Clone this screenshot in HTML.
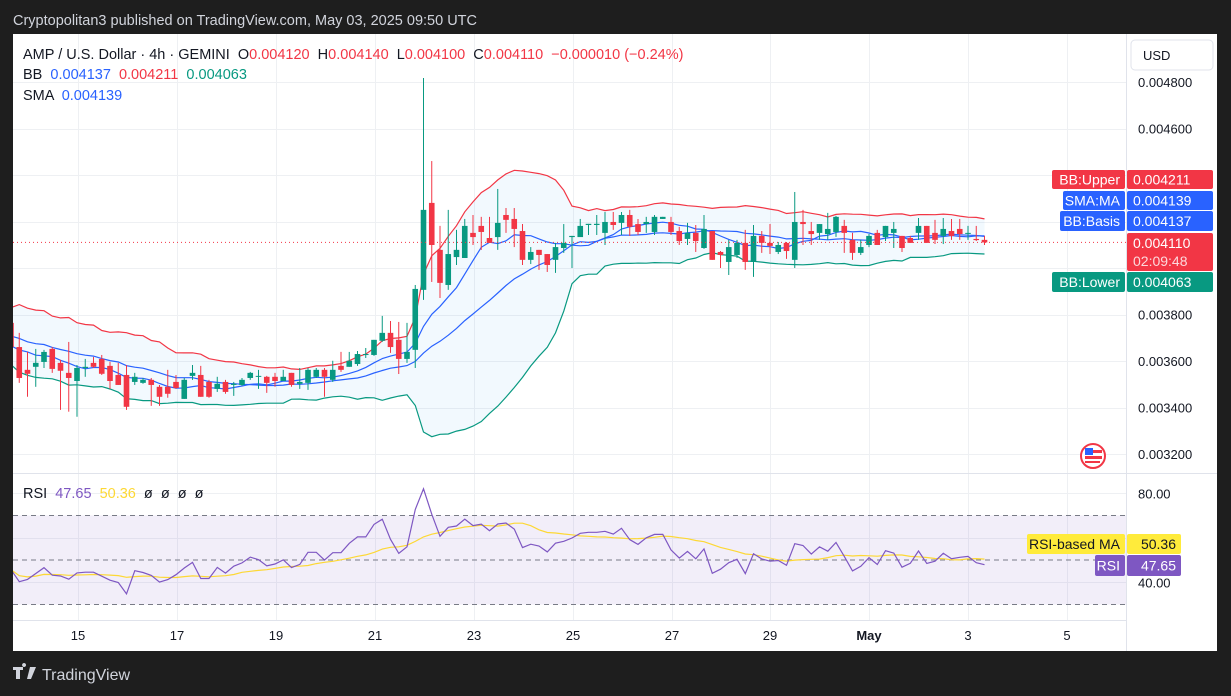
<!DOCTYPE html>
<html><head><meta charset="utf-8"><style>
html,body{margin:0;padding:0;background:#1e1e1e;}
body{width:1231px;height:696px;overflow:hidden;position:relative;font-family:"Liberation Sans",sans-serif;}
svg{position:absolute;left:0;top:0}
text{white-space:pre}
</style></head><body>
<svg id="c" width="1231" height="696" xmlns="http://www.w3.org/2000/svg"></svg>
<script>
// price values in micro-dollars (x 1e-6)
const dateLabels=["15","17","19","21","23","25","27","29","May","3","5"];
const dateX=[78,177,276,375,474,573,672,770,869,968,1067];
const priceTicks=[4800,4600,4400,4200,4000,3800,3600,3400,3200];
const priorCloses=[3800,3720,3840,3760,3700,3820,3740,3680,3780,3700,3650,3760,3690,3620,3720,3660,3600,3700,3640,3700];
const opens=[3764,3660,3562,3575,3596,3652,3592,3549,3514,3570,3592,3609,3579,3540,3540,3510,3506,3519,3489,3489,3510,3437,3536,3540,3510,3480,3510,3497,3497,3527,3532,3532,3532,3514,3549,3502,3506,3532,3562,3519,3579,3575,3587,3626,3626,3687,3721,3691,3609,3648,3906,4280,4078,3927,4047,4043,4151,4181,4129,4133,4228,4211,4159,4035,4078,4060,4035,4086,4133,4133,4185,4185,4151,4198,4194,4228,4189,4189,4155,4211,4198,4159,4125,4151,4086,4159,4069,4026,4056,4108,4026,4138,4108,4069,4108,4035,4198,4159,4151,4146,4155,4181,4121,4065,4099,4151,4133,4151,4138,4129,4151,4181,4151,4138,4159,4168,4151,4125,4121];
const closes=[3660,3527,3545,3592,3639,3566,3558,3527,3570,3575,3575,3545,3514,3497,3403,3532,3519,3497,3446,3459,3484,3519,3549,3446,3446,3502,3467,3502,3519,3549,3536,3506,3514,3532,3497,3510,3562,3562,3532,3562,3562,3601,3630,3630,3691,3721,3660,3609,3639,3910,4250,4099,3936,4060,4078,4181,4133,4155,4108,4194,4207,4168,4035,4069,4056,4013,4090,4108,4138,4181,4190,4190,4198,4185,4228,4177,4155,4198,4220,4220,4155,4116,4151,4116,4168,4035,4056,4090,4108,4026,4138,4108,4095,4099,4073,4198,4189,4146,4189,4168,4220,4151,4065,4090,4138,4099,4181,4168,4086,4108,4181,4108,4121,4168,4138,4146,4151,4120,4110];
const highs=[3785,3721,3639,3652,3648,3660,3605,3682,3583,3609,3618,3626,3596,3592,3583,3549,3527,3527,3497,3562,3540,3527,3583,3579,3519,3532,3519,3510,3527,3553,3562,3536,3549,3562,3549,3570,3570,3570,3570,3601,3639,3639,3643,3656,3691,3794,3772,3768,3764,3927,4817,4460,4181,4250,4164,4211,4228,4220,4220,4340,4258,4258,4189,4090,4078,4060,4108,4189,4138,4211,4190,4228,4241,4241,4241,4250,4211,4220,4228,4220,4220,4177,4194,4185,4228,4159,4073,4121,4121,4164,4185,4159,4189,4112,4112,4327,4250,4198,4189,4237,4224,4207,4151,4121,4146,4164,4181,4198,4138,4138,4215,4181,4207,4215,4211,4211,4181,4181,4138];
const lows=[3640,3506,3446,3489,3570,3549,3390,3382,3360,3532,3570,3540,3480,3497,3390,3497,3502,3407,3407,3442,3480,3437,3519,3446,3442,3467,3459,3450,3493,3519,3480,3463,3489,3519,3489,3480,3476,3527,3446,3510,3553,3575,3579,3613,3622,3682,3635,3544,3592,3570,3863,3940,3871,3906,4013,4043,4099,4078,4108,4078,4151,4090,4013,4017,3992,3983,3979,4065,4000,4134,4142,4142,4099,4164,4142,4138,4142,4151,4142,4211,4142,4099,4099,4069,4082,4035,4000,3970,4043,3992,3962,4065,4060,4060,4039,4000,4099,4099,4121,4121,4134,4065,4035,4056,4090,4099,4116,4086,4069,4108,4121,4108,4103,4103,4121,4121,4121,4116,4099];

const NS="http://www.w3.org/2000/svg";
const svg=document.getElementById('c');
function el(t,a,p){const e=document.createElementNS(NS,t);for(const k in a)e.setAttribute(k,a[k]);(p||svg).appendChild(e);return e;}
function tx(x,y,s,a,p){const e=el('text',Object.assign({x:x,y:y,'font-family':'Liberation Sans, sans-serif','font-size':13},a),p);e.textContent=s;return e;}
const N=closes.length;
function xOf(i){return 984.5-(N-1-i)*8.25;}
function yOf(p){return 82+(4800-p)/200*46.5;}
function yR(v){return 560-(v-50)*2.225;}

el('rect',{x:13,y:34,width:1204,height:617,fill:'#ffffff'});
const hdr=tx(13,25,'Cryptopolitan3 published on TradingView.com, May 03, 2025 09:50 UTC',{fill:'#d1d4dc','font-size':14.5});

const grid=el('g',{stroke:'#eef0f3','stroke-width':1});

dateX.forEach(x=>el('line',{x1:x+0.5,y1:34,x2:x+0.5,y2:620},grid));
priceTicks.forEach(p=>el('line',{x1:13,y1:Math.round(yOf(p))+0.5,x2:1126,y2:Math.round(yOf(p))+0.5},grid));
[80,60,40].forEach(v=>el('line',{x1:13,y1:Math.round(yR(v))+0.5,x2:1126,y2:Math.round(yR(v))+0.5},grid));
el('line',{x1:1126.5,y1:34,x2:1126.5,y2:651,stroke:'#e0e3eb'});
el('line',{x1:13,y1:473.5,x2:1217,y2:473.5,stroke:'#e0e3eb'});
el('line',{x1:13,y1:620.5,x2:1126,y2:620.5,stroke:'#e0e3eb'});

const all=priorCloses.concat(closes), P=priorCloses.length;
const basis=[],up=[],lo=[],sma9=[];
for(let i=0;i<N;i++){const w=all.slice(P+i-19,P+i+1);const m=w.reduce((a,b)=>a+b,0)/20;const sd=Math.sqrt(w.reduce((a,b)=>a+(b-m)*(b-m),0)/20);basis.push(m);up.push(m+2*sd);lo.push(m-2*sd);
 const w9=all.slice(P+i-8,P+i+1);sma9.push(w9.reduce((a,b)=>a+b,0)/9);}
const pane=el('g',{'clip-path':'url(#pc)'});
const cp=el('clipPath',{id:'pc'});el('rect',{x:13,y:34,width:1113,height:439},cp);
function path(arr,f){return arr.map((v,i)=>(i?'L':'M')+xOf(i).toFixed(1)+' '+f(v).toFixed(1)).join(' ');}
let fd=path(up,yOf);for(let i=N-1;i>=0;i--)fd+=' L'+xOf(i).toFixed(1)+' '+yOf(lo[i]).toFixed(1);
const bf=el('path',{d:fd+'Z',fill:'#2196f3','fill-opacity':0.06},pane);
const lu=el('path',{d:path(up,yOf),fill:'none',stroke:'#f23645','stroke-width':1.2},pane);
const ll=el('path',{d:path(lo,yOf),fill:'none',stroke:'#089981','stroke-width':1.2},pane);
const lb=el('path',{d:path(basis,yOf),fill:'none',stroke:'#2962ff','stroke-width':1.2},pane);
const ls=el('path',{d:path(sma9,yOf),fill:'none',stroke:'#2962ff','stroke-width':1.2},pane);
for(let i=0;i<N;i++){const g=closes[i]>=opens[i];const c=g?'#089981':'#f23645';const x=xOf(i);
 const w=el('line',{x1:x,y1:yOf(highs[i]),x2:x,y2:yOf(lows[i]),stroke:c,'stroke-width':1},pane);
 
 const t=yOf(Math.max(opens[i],closes[i])),b=yOf(Math.min(opens[i],closes[i]));
 const r=el('rect',{x:x-2.8,y:t,width:5.6,height:Math.max(1,b-t),fill:c},pane);
 }
const lp=el('line',{x1:13,y1:yOf(closes[N-1]),x2:1126,y2:yOf(closes[N-1]),stroke:'#f23645','stroke-dasharray':'1 3'});


let ag=0,al=0;const rsi=[];
for(let k=1;k<all.length;k++){const d=all[k]-all[k-1];const g=Math.max(d,0),l=Math.max(-d,0);
 if(k<=14){ag+=g/14;al+=l/14;}else{ag=(ag*13+g)/14;al=(al*13+l)/14;}
 if(k>=P){rsi.push(al===0?100:100-100/(1+ag/al));}}
const rma=rsi.map((v,i)=>{const w=rsi.slice(Math.max(0,i-13),i+1);return w.reduce((a,b)=>a+b,0)/w.length;});
const rb=el('rect',{x:13,y:yR(70),width:1113,height:yR(30)-yR(70),fill:'#7e57c2','fill-opacity':0.1});
[70,50,30].forEach(v=>el('line',{x1:13,y1:yR(v),x2:1126,y2:yR(v),stroke:'#787b86','stroke-dasharray':'5 4','stroke-width':1}));
const rc=el('g',{'clip-path':'url(#rc)'});const cr=el('clipPath',{id:'rc'});el('rect',{x:13,y:474,width:1113,height:146},cr);
const rm=el('path',{d:path(rma,yR),fill:'none',stroke:'#fdd835','stroke-width':1.2},rc);
const rl=el('path',{d:path(rsi,yR),fill:'none',stroke:'#7e57c2','stroke-width':1.2},rc);

priceTicks.forEach(p=>{if(p===4200||p===4000)return;const t=tx(1138,yOf(p)+5,(p/1e6).toFixed(6),{fill:'#131722'});});
['80.00','40.00'].forEach((s,k)=>{const t=tx(1138,yR(k?40:80)+5,s,{fill:'#131722'});});
dateLabels.forEach((s,k)=>{const t=tx(dateX[k],640,s,{fill:'#131722','text-anchor':'middle','font-weight':s==='May'?'bold':'normal'});});

function leg(x,y,parts,name){const t=el('text',{x:x,y:y,'font-family':'Liberation Sans, sans-serif','font-size':14.5,'xml:space':'preserve'});
 parts.forEach(p=>{const s=el('tspan',{fill:p[1]},t);s.textContent=p[0];});}
leg(23,59,[['AMP / U.S. Dollar · 4h · GEMINI  O','#131722'],['0.004120','#f23645'],['  H','#131722'],['0.004140','#f23645'],['  L','#131722'],['0.004100','#f23645'],['  C','#131722'],['0.004110','#f23645'],['  −0.000010 (−0.24%)','#f23645']],'ohlc-legend');
leg(23,79,[['BB  ','#131722'],['0.004137  ','#2962ff'],['0.004211  ','#f23645'],['0.004063','#089981']],'bb-legend');
leg(23,100,[['SMA  ','#131722'],['0.004139','#2962ff']],'sma-legend');
leg(23,498,[['RSI  ','#131722'],['47.65  ','#7e57c2'],['50.36  ','#fdd835'],['ø  ø  ø  ø','#131722']],'rsi-legend');

const ub=el('rect',{x:1131,y:40,width:82,height:30,rx:4,fill:'#fff',stroke:'#e0e3eb'});
tx(1143,60,'USD',{fill:'#131722'});

function tag(x,y,w,h,fill,text,tc,name,anchor){const r=el('rect',{x:x,y:y,width:w,height:h,rx:2,fill:fill});
 if(text)tx(anchor==='end'?x+w-5:x+6,y+h/2+5,text,{fill:tc,'text-anchor':anchor||'start','font-size':14});}
tag(1052,170,73,19,'#f23645','BB:Upper','#fff','bb-upper-tag','end');
tag(1127,170,86,19,'#f23645','0.004211','#fff','bb-upper-value');
tag(1063,191,62,19,'#2962ff','SMA:MA','#fff','sma-tag','end');
tag(1127,191,86,19,'#2962ff','0.004139','#fff','sma-value');
tag(1060,211,65,20,'#2962ff','BB:Basis','#fff','bb-basis-tag','end');
tag(1127,211,86,20,'#2962ff','0.004137','#fff','bb-basis-value');
tag(1127,233,86,38,'#f23645','','#fff','last-price-value');
tx(1133,248,'0.004110',{fill:'#fff','font-size':14});
tx(1133,266,'02:09:48',{fill:'#fcd9dc','font-size':14});
tag(1052,272,73,20,'#089981','BB:Lower','#fff','bb-lower-tag','end');
tag(1127,272,86,20,'#089981','0.004063','#fff','bb-lower-value');
tag(1027,534,98,20,'#ffeb3b','RSI-based MA','#131722','rsi-ma-tag','end');
tag(1127,534,54,20,'#ffeb3b','50.36','#131722','rsi-ma-value','end');
tag(1095,555,30,21,'#7e57c2','RSI','#fff','rsi-tag','end');
tag(1127,555,54,21,'#7e57c2','47.65','#fff','rsi-value','end');

const fl=el('g',{});
el('circle',{cx:1093,cy:456,r:12,fill:'#fff',stroke:'#f23645','stroke-width':2},fl);
el('rect',{x:1085,y:450,width:17,height:3,fill:'#f23645'},fl);el('rect',{x:1085,y:456,width:17,height:3,fill:'#f23645'},fl);el('rect',{x:1085,y:461,width:15,height:2,fill:'#f23645'},fl);
el('rect',{x:1085,y:448,width:8,height:7,fill:'#2962ff'},fl);

const lg=el('g',{});
el('path',{d:'M13 667h10v3h-3v9h-4v-9h-3z M24 667a2 2 0 1 1 0.1 0z M30 667h6l-5 12h-4z',fill:'#d1d4dc'},lg);
tx(42,680,'TradingView',{fill:'#d1d4dc','font-size':16},lg);
</script>
</body></html>
